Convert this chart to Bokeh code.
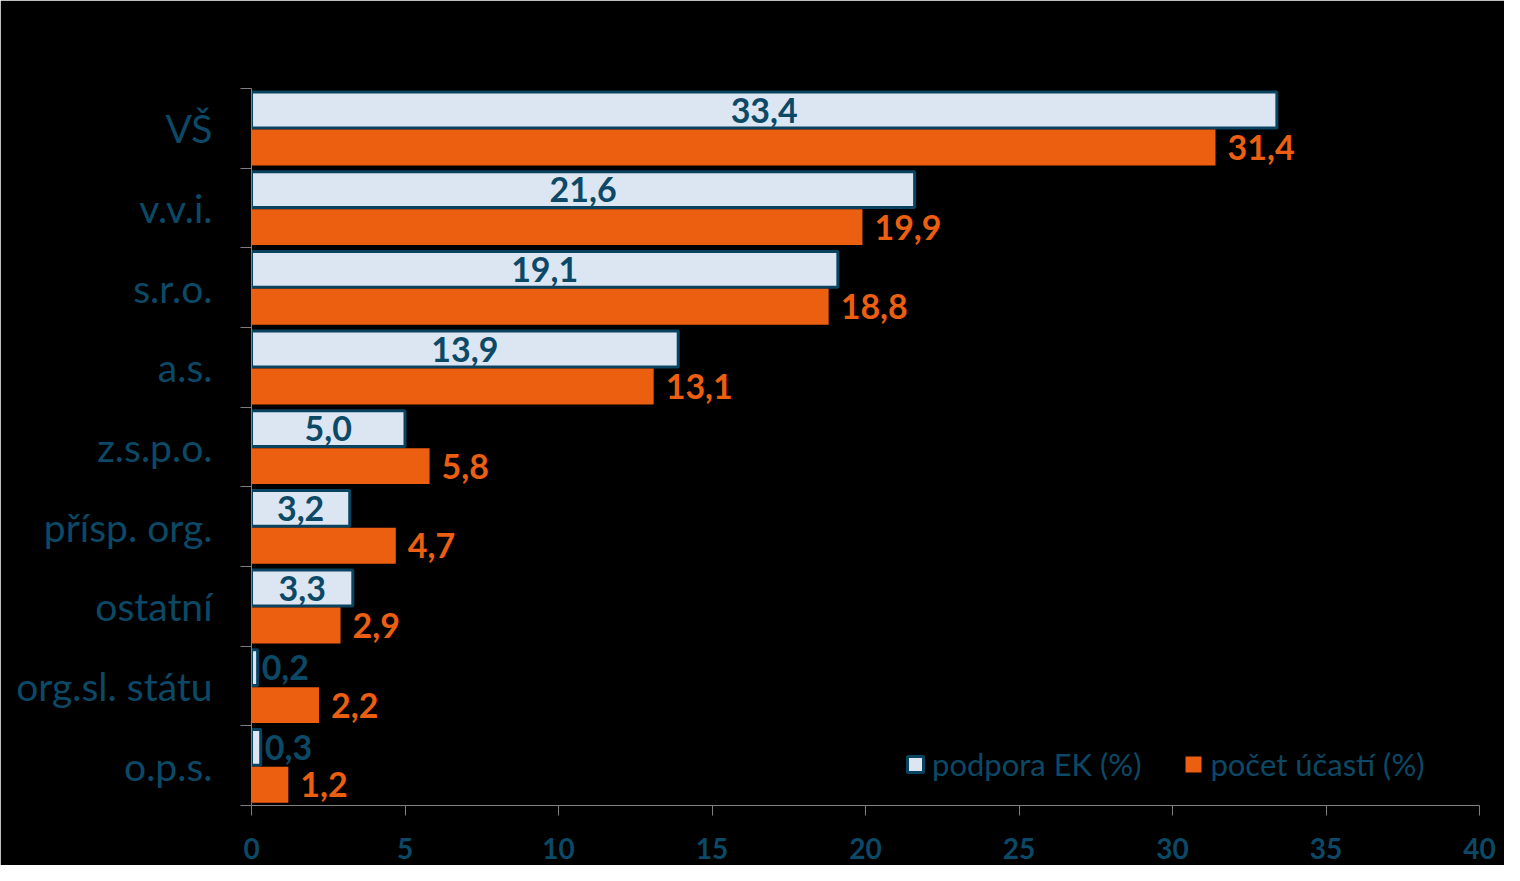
from bokeh.plotting import figure
from bokeh.models import ColumnDataSource, FixedTicker, Legend, LegendItem, Range1d
from bokeh.core.properties import value
from bokeh.embed import file_html
from bokeh.resources import INLINE

categories = ["VŠ", "v.v.i.", "s.r.o.", "a.s.", "z.s.p.o.", "přísp. org.", "ostatní", "org.sl. státu", "o.p.s."]
podpora = [33.4, 21.6, 19.1, 13.9, 5.0, 3.2, 3.3, 0.2, 0.3]
pocet = [31.4, 19.9, 18.8, 13.1, 5.8, 4.7, 2.9, 2.2, 1.2]
x_ticks = [0, 5, 10, 15, 20, 25, 30, 35, 40]

TEAL = "#0C4966"
BORDER = "#0A4360"
LIGHT = "#DCE6F2"
ORANGE = "#EC5F11"
FONT = "Lato"

n = len(categories)
base = [n - 1 - i for i in range(n)]  # top category at top
fmt = lambda v: f"{v:.1f}".replace(".", ",")

src_a = ColumnDataSource(dict(
    y=[b + 0.73 for b in base], v=podpora, lab=[fmt(v) for v in podpora],
    lx=[v / 2 if v >= 1.5 else v for v in podpora],
    align=["center" if v >= 1.5 else "left" for v in podpora],
    off=[0 if v >= 1.5 else 4 for v in podpora],
))
src_b = ColumnDataSource(dict(
    y=[b + 0.26 for b in base], v=pocet, lab=[fmt(v) for v in pocet],
))

p = figure(width=1504, height=865, output_backend="svg", toolbar_location=None,
           x_range=Range1d(0, 40), y_range=Range1d(0, n),
           min_border_left=251, min_border_right=25, min_border_top=88, min_border_bottom=60,
           background_fill_color="black", border_fill_color="black",
           outline_line_color="black", outline_line_width=2)
p.grid.visible = False

ra = p.hbar(y="y", right="v", left=0, height=0.45, source=src_a,
            fill_color=LIGHT, line_color=BORDER, line_width=3)
rb = p.hbar(y="y", right="v", left=0, height=0.45, source=src_b,
            fill_color=ORANGE, line_color=None)

p.text(x="lx", y="y", text="lab", source=src_a, text_align="align", x_offset="off",
       text_baseline="middle", text_color=TEAL, text_font=value(FONT),
       text_font_style="bold", text_font_size="34px")
p.text(x="v", y="y", text="lab", source=src_b, text_align="left", x_offset=12,
       text_baseline="middle", text_color=ORANGE, text_font=value(FONT),
       text_font_style="bold", text_font_size="34px")

# axes
yax = p.yaxis[0]
yax.ticker = FixedTicker(ticks=[b + 0.5 for b in base], minor_ticks=list(range(n + 1)))
yax.major_label_overrides = {b + 0.5: c for b, c in zip(base, categories)}
yax.major_tick_out = 0
yax.major_tick_in = 0
yax.minor_tick_out = 11
yax.minor_tick_in = 0
yax.minor_tick_line_color = "#808080"
yax.axis_line_color = "#808080"
yax.major_label_standoff = 28
yax.major_label_text_color = TEAL
yax.major_label_text_font = FONT
yax.major_label_text_font_size = "39px"

xax = p.xaxis[0]
xax.ticker = FixedTicker(ticks=x_ticks)
xax.major_tick_out = 10
xax.major_tick_in = 0
xax.minor_tick_out = 0
xax.minor_tick_in = 0
xax.major_tick_line_color = "#808080"
xax.axis_line_color = "#808080"
xax.major_label_standoff = 22
xax.major_label_text_color = TEAL
xax.major_label_text_font = FONT
xax.major_label_text_font_style = "bold"
xax.major_label_text_font_size = "28px"

legend = Legend(items=[LegendItem(label="podpora EK (%)", renderers=[ra]),
                       LegendItem(label="počet účastí (%)", renderers=[rb])],
                orientation="horizontal", location=(654, 22),
                background_fill_alpha=0, border_line_color=None,
                label_text_color=TEAL, label_text_font=FONT, label_text_font_size="31px",
                glyph_width=20, glyph_height=20, label_standoff=7, spacing=42,
                padding=0, margin=0)
p.add_layout(legend)

open("out.html", "w").write(file_html(p, INLINE))
